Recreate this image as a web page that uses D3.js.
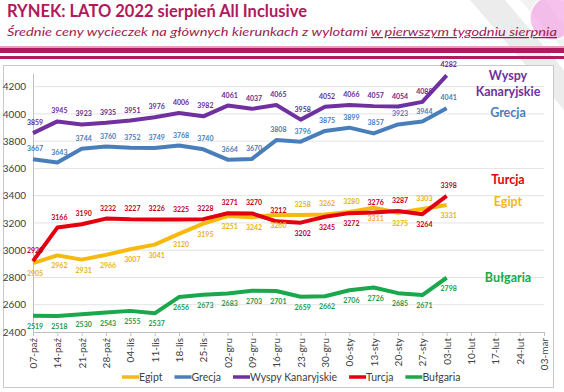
<!DOCTYPE html>
<html>
<head>
<meta charset="utf-8">
<script src="https://cdn.jsdelivr.net/npm/d3@7"></script>
<style>
  body { margin: 0; background: #fff; }
  svg { display: block; font-family: Lato, "Open Sans", sans-serif; }
</style>
</head>
<body>
<svg id="chart" width="564" height="392"></svg>
<script>
// week labels on the x axis
const weeks = ["07-paź", "14-paź", "21-paź", "28-paź", "04-lis", "11-lis", "18-lis", "25-lis",
  "02-gru", "09-gru", "16-gru", "23-gru", "30-gru", "06-sty", "13-sty", "20-sty", "27-sty",
  "03-lut", "10-lut", "17-lut", "24-lut", "03-mar"];

// average prices per week (only the first 18 weeks have data)
const egipt = [2905, 2962, 2931, 2966, 3007, 3041, 3120, 3195, 3251, 3242, 3260, 3258, 3262, 3280, 3311, 3275, 3303, 3331];
const grecja = [3667, 3643, 3744, 3760, 3752, 3749, 3768, 3740, 3664, 3670, 3808, 3796, 3875, 3899, 3857, 3923, 3944, 4041];
const kanary = [3859, 3945, 3923, 3935, 3951, 3976, 4006, 3982, 4061, 4037, 4065, 3958, 4052, 4066, 4057, 4054, 4088, 4282];
const turcja = [2920, 3166, 3190, 3232, 3227, 3226, 3225, 3228, 3271, 3270, 3212, 3202, 3245, 3272, 3276, 3287, 3264, 3398];
const bulgaria = [2519, 2518, 2530, 2543, 2555, 2537, 2656, 2673, 2683, 2703, 2701, 2659, 2662, 2706, 2726, 2685, 2671, 2798];

const yTicks = [2400, 2600, 2800, 3000, 3200, 3400, 3600, 3800, 4000, 4200];

// which data labels sit above the line (true) or below it (false)
const egiptUp = egipt.map((v, i) => [11, 12, 13, 16].includes(i));
const turcjaUp = turcja.map((v, i) => ![11, 12, 13, 16].includes(i));

const series = [
  { name: "Egipt", values: egipt, color: "#f7b90f", label: "#e9b21a", up: egiptUp },
  { name: "Grecja", values: grecja, color: "#4a7ebb", label: "#4a7ebb", up: grecja.map(() => true) },
  { name: "Wyspy Kanaryjskie", values: kanary, color: "#7030a0", label: "#6a2c96", up: kanary.map(() => true) },
  { name: "Turcja", values: turcja, color: "#e3000f", label: "#c0001a", up: turcjaUp },
  { name: "Bułgaria", values: bulgaria, color: "#19a84c", label: "#1e9a4e", up: bulgaria.map(() => false) }
];

const svg = d3.select("#chart");

// slide decoration
const deco = svg.append("g");
deco.append("polygon").attr("points", "470,0 505,0 564,70 564,110").attr("fill", "#ececec");
deco.append("polygon").attr("points", "520,0 545,0 564,25 564,50").attr("fill", "#f2f2f2");
deco.append("circle").attr("cx", 552).attr("cy", 18).attr("r", 22).attr("fill", "#f2a6e4").attr("opacity", 0.7);
deco.append("circle").attr("cx", 552).attr("cy", 18).attr("r", 22).attr("fill", "none")
  .attr("stroke", "#fff").attr("stroke-width", 1.5).attr("opacity", 0.8);

svg.append("text")
  .attr("x", 7).attr("y", 17)
  .attr("fill", "#b01a5c")
  .attr("font-size", 16.5).attr("font-weight", "bold")
  .attr("textLength", 300).attr("lengthAdjust", "spacingAndGlyphs")
  .text("RYNEK: LATO 2022 sierpień All Inclusive");

const sub = svg.append("text")
  .attr("x", 7).attr("y", 36)
  .attr("fill", "#a01c52")
  .attr("font-size", 12).attr("font-style", "italic")
  .attr("textLength", 550).attr("lengthAdjust", "spacingAndGlyphs");
sub.append("tspan").text("Średnie ceny wycieczek na głównych kierunkach z wylotami ");
sub.append("tspan").attr("text-decoration", "underline").text("w pierwszym tygodniu sierpnia");

svg.append("rect").attr("x", 0).attr("y", 46).attr("width", 564).attr("height", 2).attr("fill", "#e8a0c0");
svg.append("rect").attr("x", 0).attr("y", 48).attr("width", 564).attr("height", 5).attr("fill", "#b3195e");
svg.append("rect").attr("x", 0).attr("y", 56).attr("width", 564).attr("height", 3).attr("fill", "#b3195e");

// chart box
svg.append("rect").attr("x", 3.5).attr("y", 65.5).attr("width", 550).attr("height", 322)
  .attr("fill", "#fff").attr("stroke", "#c9c9c9");

const x = d3.scalePoint().domain(weeks).range([33, 544]);
const y = d3.scaleLinear().domain([2400, 4300]).range([332, 73]);

// gridlines
svg.append("g").selectAll("line").data(yTicks.slice(1)).join("line")
  .attr("x1", 33).attr("x2", 544)
  .attr("y1", d => y(d)).attr("y2", d => y(d))
  .attr("stroke", "#e3e3e3");

// y axis
const yAxis = svg.append("g").attr("transform", "translate(33,0)")
  .call(d3.axisLeft(y).tickValues(yTicks).tickFormat(d3.format("d")).tickSize(0).tickPadding(7));
yAxis.select(".domain").attr("stroke", "#bfbfbf");
yAxis.selectAll("text").attr("font-size", 10).attr("fill", "#404040").attr("font-family", "Lato, sans-serif");

// x axis
const xAxis = svg.append("g").attr("transform", "translate(0,332)")
  .call(d3.axisBottom(x).tickSize(4).tickSizeOuter(0));
xAxis.select(".domain").attr("stroke", "#bfbfbf");
xAxis.selectAll(".tick line").attr("stroke", "#bfbfbf");
xAxis.selectAll("text")
  .attr("font-size", 10).attr("fill", "#404040").attr("font-family", "Lato, sans-serif")
  .attr("text-anchor", "end")
  .attr("transform", "translate(0,6) rotate(-90)")
  .attr("x", 0).attr("y", 0).attr("dy", "0.35em");

// lines
const line = d3.line().x((d, i) => x(weeks[i])).y(d => y(d));
svg.append("g").selectAll("path").data(series).join("path")
  .attr("d", d => line(d.values))
  .attr("fill", "none")
  .attr("stroke", d => d.color)
  .attr("stroke-width", 4)
  .attr("stroke-linejoin", "round");

// data labels
series.forEach(s => {
  svg.append("g").selectAll("text").data(s.values).join("text")
    .attr("x", (d, i) => x(weeks[i]) + 2)
    .attr("y", (d, i) => y(d) + (s.up[i] ? -8 : 13))
    .attr("text-anchor", "middle")
    .attr("font-size", 7).attr("font-weight", "bold")
    .attr("fill", s.label)
    .text(d => d);
});

// names at the right side
const sideNames = [
  { lines: ["Wyspy", "Kanaryjskie"], y: 80, color: "#7030a0" },
  { lines: ["Grecja"], y: 117, color: "#4a7ebb" },
  { lines: ["Turcja"], y: 184, color: "#e3000f" },
  { lines: ["Egipt"], y: 206, color: "#f7b90f" },
  { lines: ["Bułgaria"], y: 282, color: "#19a84c" }
];
sideNames.forEach(n => {
  const t = svg.append("text")
    .attr("y", n.y)
    .attr("text-anchor", "middle")
    .attr("font-size", 12.5).attr("font-weight", "bold")
    .attr("fill", n.color);
  n.lines.forEach((l, i) => t.append("tspan").attr("x", 508).attr("dy", i ? 16 : 0).text(l));
});

// bottom legend
let lx = 122;
series.forEach(s => {
  svg.append("line").attr("x1", lx).attr("x2", lx + 17).attr("y1", 377).attr("y2", 377)
    .attr("stroke", s.color).attr("stroke-width", 3.5);
  const t = svg.append("text").attr("x", lx + 17).attr("y", 381)
    .attr("font-size", 10.5).attr("fill", "#404040").text(s.name);
  lx += 17 + t.node().getComputedTextLength() + 12;
});
</script>
</body>
</html>
